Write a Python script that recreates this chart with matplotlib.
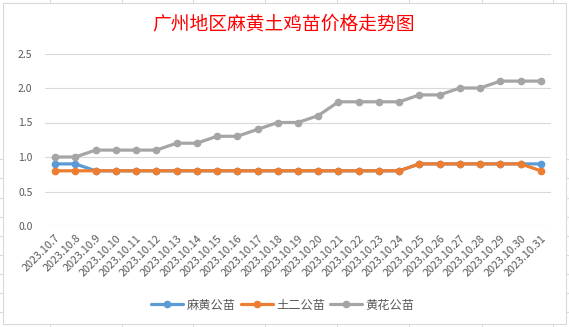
import matplotlib
matplotlib.use('Agg')
import matplotlib.pyplot as plt
from matplotlib.lines import Line2D
from matplotlib.patches import Rectangle

plt.rcParams['font.family'] = ['Noto Sans CJK SC', 'DejaVu Sans']

dates = ['2023.10.7', '2023.10.8', '2023.10.9', '2023.10.10', '2023.10.11',
         '2023.10.12', '2023.10.13', '2023.10.14', '2023.10.15', '2023.10.16',
         '2023.10.17', '2023.10.18', '2023.10.19', '2023.10.20', '2023.10.21',
         '2023.10.22', '2023.10.23', '2023.10.24', '2023.10.25', '2023.10.26',
         '2023.10.27', '2023.10.28', '2023.10.29', '2023.10.30', '2023.10.31']
mahuang = [0.9, 0.9, 0.8, 0.8, 0.8, 0.8, 0.8, 0.8, 0.8, 0.8, 0.8, 0.8, 0.8,
           0.8, 0.8, 0.8, 0.8, 0.8, 0.9, 0.9, 0.9, 0.9, 0.9, 0.9, 0.9]
tuer = [0.8, 0.8, 0.8, 0.8, 0.8, 0.8, 0.8, 0.8, 0.8, 0.8, 0.8, 0.8, 0.8,
        0.8, 0.8, 0.8, 0.8, 0.8, 0.9, 0.9, 0.9, 0.9, 0.9, 0.9, 0.8]
huanghua = [1.0, 1.0, 1.1, 1.1, 1.1, 1.1, 1.2, 1.2, 1.3, 1.3, 1.4, 1.5, 1.5,
            1.6, 1.8, 1.8, 1.8, 1.8, 1.9, 1.9, 2.0, 2.0, 2.1, 2.1, 2.1]
series = [('麻黄公苗', mahuang, '#5B9BD5'),
          ('土二公苗', tuer, '#ED7D31'),
          ('黄花公苗', huanghua, '#A5A5A5')]

W, H = 569, 327
fig = plt.figure(figsize=(W / 100, H / 100), dpi=100)

# spreadsheet cells behind the chart
grid_col = '#DADADA'
for x in [50, 122, 193, 265, 337, 409, 482, 553]:
    fig.add_artist(Line2D([x / W, x / W], [0, 1], color=grid_col, lw=0.8, zorder=0))
for y in [159, 178, 198, 217, 236, 255, 274, 293, 312]:
    fig.add_artist(Line2D([0, 1], [1 - y / H, 1 - y / H], color=grid_col, lw=0.8, zorder=0))
fig.add_artist(Rectangle((2.5 / W, 1 - 324 / H), 563 / W, 321.5 / H,
                         facecolor='white', edgecolor='#D9D9D9', lw=0.8, zorder=1))

ax = fig.add_axes([45 / W, 1 - 226 / H, 506 / W, 172.5 / H])
ax.set_zorder(2)
ax.patch.set_alpha(0)

xs = list(range(len(dates)))
for name, vals, col in series:
    ax.plot(xs, vals, color=col, lw=2.3, marker='o', markersize=4.5,
            label=name, solid_capstyle='round')

ax.set_xlim(-0.5, len(dates) - 0.5)
ax.set_ylim(0, 2.5)
ax.set_yticks([0, 0.5, 1.0, 1.5, 2.0, 2.5])
ax.set_yticklabels(['0.0', '0.5', '1.0', '1.5', '2.0', '2.5'])
ax.grid(axis='y', color='#D9D9D9', lw=0.8)
ax.set_axisbelow(True)
for s in ax.spines.values():
    s.set_visible(False)
ax.tick_params(axis='y', length=0, pad=9, labelsize=7.5, labelcolor='#595959')
ax.set_xticks(xs)
ax.set_xticklabels(dates, rotation=45, ha='right', rotation_mode='anchor')
ax.tick_params(axis='x', length=0, pad=5, labelsize=7.8, labelcolor='#595959')

fig.text(283 / W, 1 - 24 / H, '广州地区麻黄土鸡苗价格走势图', color='red',
         fontsize=13.5, ha='center', va='center')

fig.legend(loc='center', bbox_to_anchor=(283 / W, 1 - 305 / H), ncol=3,
           frameon=False, fontsize=8.8, handlelength=2.6, handletextpad=0.3,
           columnspacing=0.4, labelcolor='#595959')

fig.savefig('out.png', dpi=100)
